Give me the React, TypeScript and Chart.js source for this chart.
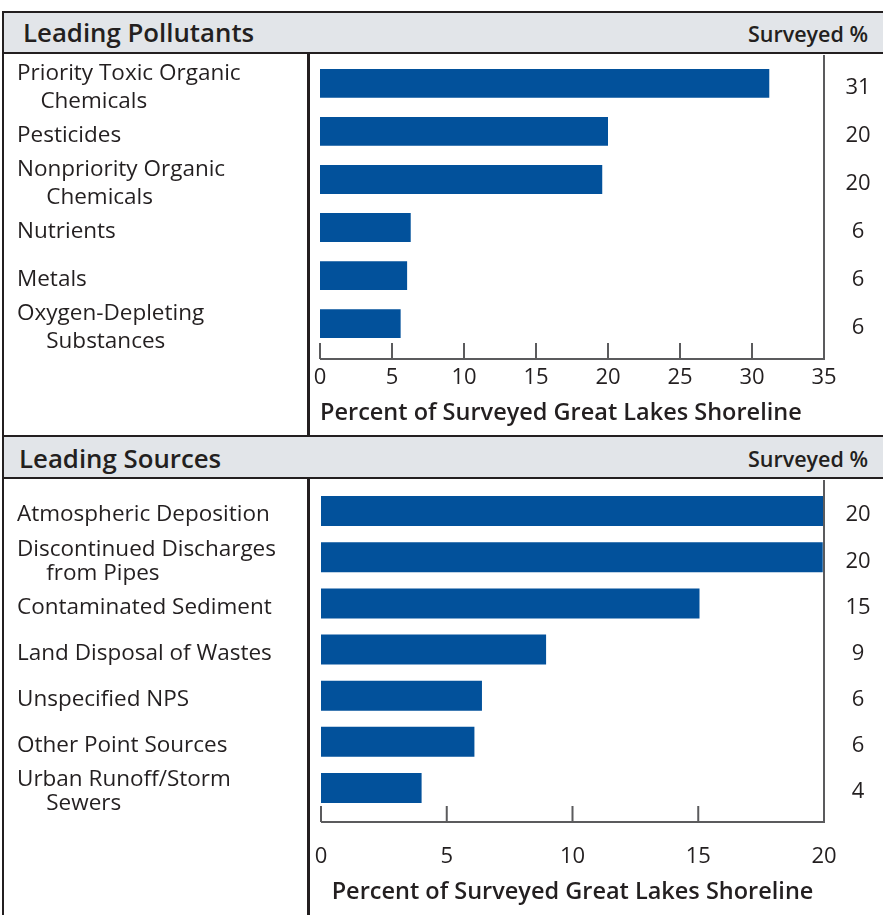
import React, { useEffect, useRef } from "react";
import { Chart, registerables } from "chart.js";

Chart.register(...registerables);

const FONT = "'Open Sans', 'Noto Sans', sans-serif";
const INK = "#231f20";
const BAR = "#02519b";
const BAND = "#e2e5e9";

// ---- Data: Leading Pollutants ----
const pollutantCategories: (string | string[])[] = [
  ["Priority Toxic Organic", "    Chemicals"],
  "Pesticides",
  ["Nonpriority Organic", "     Chemicals"],
  "Nutrients",
  "Metals",
  ["Oxygen-Depleting", "     Substances"],
];
const pollutantValues = [31.2, 20.0, 19.6, 6.3, 6.05, 5.6];
const pollutantShown = [31, 20, 20, 6, 6, 6];
const pollutantMax = 35;
const pollutantStep = 5;

// ---- Data: Leading Sources ----
const sourceCategories: (string | string[])[] = [
  "Atmospheric Deposition",
  ["Discontinued Discharges", "     from Pipes"],
  "Contaminated Sediment",
  "Land Disposal of Wastes",
  "Unspecified NPS",
  "Other Point Sources",
  ["Urban Runoff/Storm", "     Sewers"],
];
const sourceValues = [20.0, 19.95, 15.05, 8.95, 6.4, 6.1, 4.0];
const sourceShown = [20, 20, 15, 9, 6, 6, 4];
const sourceMax = 20;
const sourceStep = 5;

const axisTitle = "Percent of Surveyed Great Lakes Shoreline";

const framePlugin = {
  id: "frame",
  afterDatasetsDraw(chart: any, _args: any, opts: any) {
    const { ctx, chartArea } = chart;
    const xs = chart.scales.x;
    const ys = chart.scales.y;
    const axisY = chartArea.bottom + opts.axisGap;
    const x0 = xs.getPixelForValue(0);
    const x1 = xs.getPixelForValue(opts.max);
    ctx.save();
    ctx.strokeStyle = "#5b5b5d";
    ctx.lineWidth = 2;
    ctx.beginPath();
    ctx.moveTo(x0, axisY);
    ctx.lineTo(x1, axisY);
    ctx.lineTo(x1, opts.rightTop);
    xs.ticks.forEach((t: any) => {
      const px = xs.getPixelForValue(t.value);
      ctx.moveTo(px, axisY);
      ctx.lineTo(px, axisY - opts.tickLen);
    });
    ctx.stroke();

    ctx.fillStyle = INK;
    ctx.font = `22.5px ${FONT}`;
    ctx.textBaseline = "middle";
    ctx.textAlign = "left";
    chart.data.labels.forEach((lab: any, i: number) => {
      const lines = Array.isArray(lab) ? lab : [lab];
      const cy = ys.getPixelForValue(i);
      lines.forEach((ln: string, j: number) => {
        ctx.fillText(ln, 17, cy + (j - (lines.length - 1) / 2) * opts.lineHeight + opts.labelShift);
      });
    });
    ctx.font = `22px ${FONT}`;
    ctx.textAlign = "center";
    opts.shown.forEach((v: number, i: number) => {
      ctx.fillText(String(v), 858, ys.getPixelForValue(i) + 4);
    });
    ctx.restore();
  },
};

type PanelProps = {
  top: number;
  height: number;
  labels: (string | string[])[];
  values: number[];
  shown: number[];
  max: number;
  step: number;
  padLeft: number;
  padTop: number;
  tickPad: number;
  titlePadTop: number;
  titleAlign: "start" | "center";
  axisGap: number;
  lineHeight: number;
  labelShift: number;
  barPct: number;
};

function Panel(p: PanelProps) {
  const ref = useRef<HTMLCanvasElement>(null);
  useEffect(() => {
    const chart = new Chart(ref.current as HTMLCanvasElement, {
      type: "bar",
      data: {
        labels: p.labels as any,
        datasets: [
          {
            data: p.values,
            backgroundColor: BAR,
            borderWidth: 0,
            categoryPercentage: 1,
            barPercentage: p.barPct,
          },
        ],
      },
      plugins: [framePlugin],
      options: {
        indexAxis: "y",
        animation: false,
        responsive: false,
        events: [],
        layout: {
          padding: { left: p.padLeft, right: 59, top: p.padTop, bottom: 17.75 },
        },
        scales: {
          x: {
            type: "linear",
            min: 0,
            max: p.max,
            grid: { display: false, drawTicks: false },
            border: { display: false },
            ticks: {
              stepSize: p.step,
              padding: p.tickPad,
              maxRotation: 0,
              color: INK,
              font: { family: FONT, size: 22, lineHeight: 1.1454545 },
            },
            title: {
              display: true,
              text: axisTitle,
              color: INK,
              align: p.titleAlign,
              padding: { top: p.titlePadTop, bottom: 0 },
              font: { family: FONT, size: 23.5, weight: "600", lineHeight: 0.4468085 },
            },
          },
          y: { display: false, offset: true },
        },
        plugins: {
          legend: { display: false },
          tooltip: { enabled: false },
          frame: {
            axisGap: p.axisGap,
            max: p.max,
            rightTop: 1,
            tickLen: 16,
            lineHeight: p.lineHeight,
            labelShift: p.labelShift,
            shown: p.shown,
          },
        } as any,
      },
    });
    return () => chart.destroy();
  }, []);
  return (
    <canvas
      ref={ref}
      width={883}
      height={p.height}
      style={{ position: "absolute", left: 0, top: p.top, width: 883, height: p.height }}
    />
  );
}

const box = (left: number, top: number, width: number, height: number, bg: string) => (
  <div style={{ position: "absolute", left, top, width, height, background: bg }} />
);

const headText: React.CSSProperties = {
  position: "absolute",
  fontFamily: FONT,
  color: INK,
  whiteSpace: "nowrap",
  fontWeight: 600,
};

export default function App() {
  return (
    <div style={{ position: "absolute", left: 0, top: 0, width: 883, height: 915, overflow: "hidden", background: "#fff" }}>
      <Panel
        top={54}
        height={382}
        labels={pollutantCategories}
        values={pollutantValues}
        shown={pollutantShown}
        max={pollutantMax}
        step={pollutantStep}
        padLeft={320}
        padTop={5.4}
        tickPad={17.8}
        titlePadTop={-0.65}
        titleAlign="start"
        axisGap={11.4}
        lineHeight={28}
        labelShift={4}
        barPct={0.6}
      />
      <Panel
        top={479}
        height={436}
        labels={sourceCategories}
        values={sourceValues}
        shown={sourceShown}
        max={sourceMax}
        step={sourceStep}
        padLeft={321}
        padTop={9}
        tickPad={33.3}
        titlePadTop={-16.15}
        titleAlign="center"
        axisGap={10.9}
        lineHeight={24}
        labelShift={4}
        barPct={0.65}
      />
      {box(2, 13, 881, 39, BAND)}
      {box(2, 437, 881, 40, BAND)}
      {box(2, 11, 881, 2, INK)}
      {box(2, 52, 881, 2, INK)}
      {box(2, 435, 881, 2, INK)}
      {box(2, 477, 881, 2, INK)}
      {box(2, 11, 2, 904, INK)}
      {box(307, 54, 3, 381, INK)}
      {box(307, 479, 3, 436, INK)}
      <div style={{ ...headText, left: 23, top: 13, height: 39, lineHeight: "39px", fontSize: 25.8 }}>Leading Pollutants</div>
      <div style={{ ...headText, right: 15, top: 14, height: 39, lineHeight: "39px", fontSize: 21.5 }}>Surveyed %</div>
      <div style={{ ...headText, left: 19, top: 438, height: 40, lineHeight: "40px", fontSize: 25.8 }}>Leading Sources</div>
      <div style={{ ...headText, right: 15, top: 439, height: 40, lineHeight: "40px", fontSize: 21.5 }}>Surveyed %</div>
    </div>
  );
}
